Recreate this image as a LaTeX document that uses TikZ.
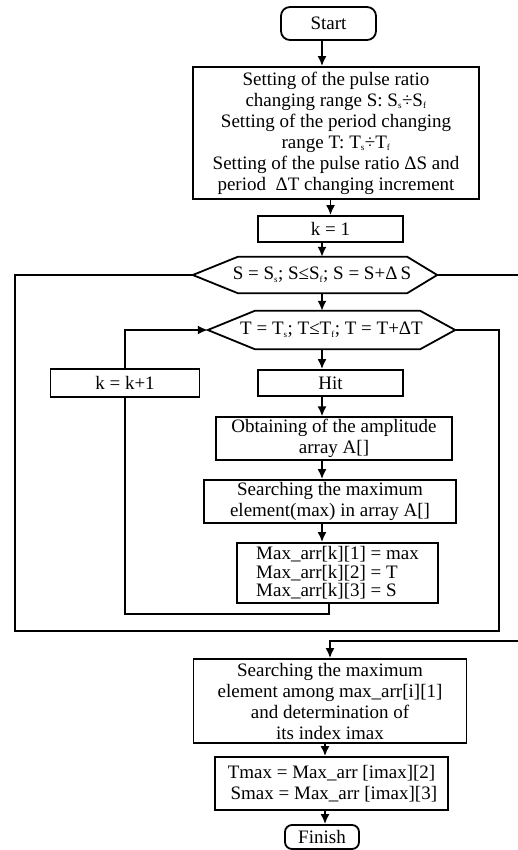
\documentclass[tikz,border=0pt]{standalone}
\usepackage{fontspec}
\setmainfont{Liberation Serif}
\usepackage{tikz}
\usetikzlibrary{positioning,arrows.meta}

\newcommand{\ix}[1]{\textsubscript{\fontsize{9pt}{9pt}\selectfont #1}}
\newcommand{\hexpath}[3]{\draw[line] (#1.west) -- ([xshift=#2]#1.north west) -- ([xshift=-#3]#1.north east) -- (#1.east) -- ([xshift=-#3]#1.south east) -- ([xshift=#2]#1.south west) -- cycle;}

\tikzset{
	blk/.style={draw,line width=1.8pt,inner sep=2pt,align=center},
	term/.style={blk,rounded corners=9pt},
	hexa/.style={inner sep=0pt,align=center},
	line/.style={line width=1.8pt},
	arr/.style={line width=1.8pt,-{Latex[length=10pt,width=9pt]}}
}

\begin{document}
\begin{tikzpicture}[x=1pt,y=-1pt,font=\fontsize{19pt}{21pt}\selectfont]
	\useasboundingbox (0,0) rectangle (518,850);
	\node[term,minimum width=95pt,minimum height=33pt] (start) at (328.5,23.5) {Start};
	\node[blk,minimum width=286pt,minimum height=132pt] (setup) at (336,133) {Setting of the pulse ratio\\changing range S: S\ix{s}÷S\ix{f}\\Setting of the period changing\\range T: T\ix{s}÷T\ix{f}\\Setting of the pulse ratio ΔS and\\period \ ΔT changing increment};
	\node[blk,minimum width=145pt,minimum height=26pt] (kone) at (330.5,229) {k = 1};
	\node[hexa,minimum width=244pt,minimum height=36pt] (shex) at (315,275) {\hspace*{14pt}S = S\ix{s}; S≤S\ix{f}; S = S+Δ\,S};
	\node[hexa,minimum width=247pt,minimum height=38pt] (thex) at (331.5,330) {T = T\ix{s}; T≤T\ix{f}; T = T+ΔT};
	\hexpath{shex}{45pt}{30pt}
	\hexpath{thex}{47pt}{35pt}
	\node[blk,minimum width=149pt,minimum height=28pt] (kinc) at (125,383) {k = k+1};
	\node[blk,minimum width=145pt,minimum height=26pt] (hit) at (330.5,383) {Hit};
	\node[blk,minimum width=236pt,minimum height=41pt] (obtain) at (334,438.5) {Obtaining of the amplitude\\array A[]};
	\node[blk,minimum width=252pt,minimum height=43pt] (search) at (330,501.5) {Searching the maximum\\element(max) in array A[]};
	\node[blk,align=left,font=\fontsize{19pt}{18.5pt}\selectfont,inner sep=1pt,minimum width=201pt,minimum height=60pt] (maxarr) at (337.5,573) {Max\_arr[k][1] = max\\Max\_arr[k][2] = T\\Max\_arr[k][3] = S};
	\node[blk,minimum width=273pt,minimum height=84pt] (final) at (330,701) {Searching the maximum\\element among max\_arr[i][1]\\and determination of\\its index imax};
	\node[blk,minimum width=233pt,minimum height=53pt] (tmax) at (331.5,783.5) {Tmax = Max\_arr [imax][2]\\\ Smax = Max\_arr [imax][3]};
	\node[term,minimum width=74pt,minimum height=24pt,rounded corners=7pt] (finish) at (322,837) {Finish};

	\coordinate (ax) at (322,0);
	\coordinate (axb) at (325,0);
	\coordinate (kloop) at (329,614);
	\coordinate (outR) at (499,631);
	\coordinate (outL) at (15,631);
	\coordinate (edgeR) at (518,641);

	\draw[arr] (start.south -| ax) -- (setup.north -| ax);
	\draw[arr] (kone.north |- setup.south) -- (kone.north);
	\draw[arr] (kone.south -| ax) -- (shex.north -| ax);
	\draw[arr] (shex.south -| ax) -- (thex.north -| ax);
	\draw[arr] (thex.south -| ax) -- (hit.north -| ax);
	\draw[arr] (hit.south -| ax) -- (obtain.north -| ax);
	\draw[arr] (obtain.south -| ax) -- (search.north -| ax);
	\draw[arr] (search.south -| ax) -- (maxarr.north -| ax);
	\draw[line] (maxarr.south -| kloop) -- (kloop) -| (kinc.south);
	\draw[arr] (kinc.north) |- (thex.west);
	\draw[line] (thex.east) -| (outR) -- (outL) |- (shex.west);
	\draw[line] (shex.east) -- (shex.east -| edgeR);
	\draw[arr] (edgeR) -| (final.north);
	\draw[arr] (final.south -| axb) -- (tmax.north -| axb);
	\draw[arr] (tmax.south -| axb) -- (finish.north -| axb);
\end{tikzpicture}
\end{document}
